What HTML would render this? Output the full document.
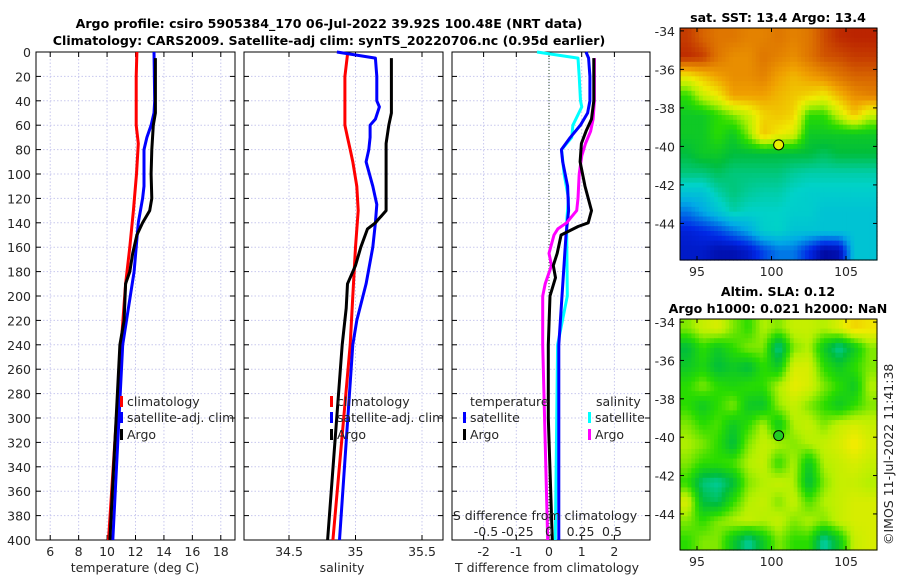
<!DOCTYPE html>
<html><head><meta charset="utf-8"><style>
body{margin:0;background:#fff}
svg{font-family:"DejaVu Sans","Liberation Sans",sans-serif;display:block}
</style></head><body>
<svg id="chart" width="900" height="580" viewBox="0 0 900 580" xmlns="http://www.w3.org/2000/svg">
<rect width="900" height="580" fill="#fff"/>
<g id="gm1"></g><g id="gm2"></g><g id="g1"></g><g id="g2"></g><g id="g3"></g>
<text x="329" y="28" text-anchor="middle" font-size="12.6" font-weight="bold">Argo profile: csiro 5905384_170 06-Jul-2022 39.92S 100.48E (NRT data)</text>
<text x="329" y="45" text-anchor="middle" font-size="12.6" font-weight="bold">Climatology: CARS2009. Satellite-adj clim: synTS_20220706.nc (0.95d earlier)</text>
<text x="778" y="22" text-anchor="middle" font-size="12.6" font-weight="bold">sat. SST: 13.4 Argo: 13.4</text>
<text x="778" y="296" text-anchor="middle" font-size="12.6" font-weight="bold">Altim. SLA: 0.12</text>
<text x="778" y="313" text-anchor="middle" font-size="12.6" font-weight="bold">Argo h1000: 0.021 h2000: NaN</text>
<text transform="translate(893,545) rotate(-90)" font-size="12.5" fill="#262626">©IMOS 11-Jul-2022 11:41:38</text>
</svg>
<script>
// ---------- data ----------
const depthTicks=[0,20,40,60,80,100,120,140,160,180,200,220,240,260,280,300,320,340,360,380,400];
const tTicks=[6,8,10,12,14,16,18];
const sTicks=[34.5,35,35.5];
const dTTicks=[-2,-1,0,1,2];
const dTTickLabels=["-2","-1","0","1","2"];
const dSTicks=[-0.5,-0.25,0,0.25,0.5];
const dSTickLabels=["-0.5","-0.25","0","0.25","0.5"];
// temperature
const tClimDepth=[0,20,60,75,100,130,160,190,238,400];
const tClimVal=[12.1,12.05,12.05,12.2,12.07,11.85,11.6,11.3,11.0,10.1];
const tSatDepth=[0,40,50,60,70,80,110,120,140,180,210,240,400];
const tSatVal=[13.3,13.35,13.3,13.1,12.8,12.6,12.6,12.5,12.2,11.9,11.5,11.1,10.4];
const tArgoDepth=[5,50,60,80,100,120,130,140,150,165,180,190,220,240,400];
const tArgoVal=[13.4,13.4,13.25,13.15,13.1,13.15,13.0,12.5,12.1,11.8,11.6,11.3,11.2,10.9,10.2];
// salinity
const sClimDepth=[2,20,60,70,80,90,110,130,160,200,240,400];
const sClimVal=[34.94,34.92,34.92,34.94,34.96,34.98,35.01,35.02,35.0,34.98,34.96,34.83];
const sSatDepth=[0,5,20,40,45,55,60,70,80,90,110,125,140,160,190,220,240,400];
const sSatVal=[34.86,35.15,35.16,35.16,35.18,35.15,35.11,35.11,35.10,35.08,35.13,35.16,35.15,35.13,35.08,35.01,34.98,34.88];
const sArgoDepth=[5,50,60,75,90,130,140,145,160,175,190,210,240,400];
const sArgoVal=[35.27,35.27,35.25,35.23,35.23,35.23,35.15,35.09,35.04,35.0,34.94,34.93,34.9,34.79];
// differences
const dTSatDepth=[0,5,20,40,50,60,70,80,90,110,130,150,240,400];
const dTSatVal=[1.13,1.21,1.25,1.25,1.18,0.96,0.65,0.38,0.42,0.57,0.6,0.52,0.3,0.3];
const dTArgoDepth=[5,40,55,65,75,90,110,130,140,143,150,165,175,185,200,240,300,400];
const dTArgoVal=[1.37,1.37,1.3,1.13,0.99,0.95,1.1,1.3,1.2,0.89,0.37,0.25,0.13,0.2,0.03,-0.02,-0.02,0.1];
const dSSatDepth=[0,5,20,40,45,60,70,80,100,120,140,200,240,400];
const dSSatVal=[-0.095,0.23,0.24,0.25,0.26,0.19,0.18,0.10,0.12,0.155,0.14,0.145,0.068,0.05];
const dSArgoDepth=[5,40,55,65,75,85,100,120,130,140,145,150,165,175,190,200,240,400];
const dSArgoVal=[0.36,0.36,0.35,0.33,0.29,0.26,0.24,0.23,0.22,0.14,0.07,0.04,0.0,0.02,-0.03,-0.05,-0.05,-0.01];
// maps (normalised colour value 0..1, rows north->south, 13 cols west->east)
const sstGrid=[
[.9,.85,.82,.82,.8,.8,.82,.8,.82,.88,.92,.93,.93],
[.92,.9,.82,.78,.78,.82,.8,.78,.82,.87,.88,.9,.9],
[.65,.7,.75,.78,.78,.8,.75,.72,.75,.78,.82,.85,.85],
[.5,.6,.65,.75,.75,.75,.72,.7,.68,.65,.72,.78,.8],
[.45,.45,.5,.55,.6,.68,.7,.68,.5,.5,.6,.7,.6],
[.45,.45,.5,.45,.55,.7,.65,.62,.45,.45,.45,.45,.45],
[.42,.45,.45,.42,.42,.42,.42,.42,.42,.4,.42,.42,.42],
[.38,.38,.4,.38,.38,.38,.38,.36,.35,.35,.35,.35,.35],
[.3,.3,.35,.38,.36,.35,.35,.33,.32,.32,.32,.32,.32],
[.2,.25,.3,.35,.33,.33,.33,.32,.32,.3,.3,.3,.3],
[.1,.12,.15,.2,.25,.32,.33,.3,.3,.3,.3,.3,.3],
[.08,.08,.05,.05,.08,.15,.2,.2,.12,.03,.05,.3,.3]];
const slaGrid=[
[.55,.6,.62,.55,.5,.58,.55,.6,.6,.58,.62,.68,.66],
[.42,.5,.45,.5,.55,.55,.36,.55,.58,.45,.36,.45,.55],
[.45,.48,.42,.45,.42,.5,.45,.62,.62,.5,.45,.5,.55],
[.5,.55,.5,.48,.5,.5,.58,.64,.62,.55,.5,.45,.58],
[.5,.45,.5,.55,.45,.44,.56,.6,.55,.5,.45,.5,.55],
[.55,.5,.52,.45,.5,.58,.45,.58,.6,.55,.6,.62,.6],
[.58,.55,.5,.42,.55,.6,.58,.55,.58,.6,.62,.66,.62],
[.55,.5,.5,.52,.58,.6,.5,.58,.45,.58,.6,.62,.6],
[.5,.38,.36,.42,.55,.58,.6,.58,.42,.55,.6,.6,.58],
[.62,.42,.4,.5,.58,.6,.55,.6,.52,.58,.6,.62,.62],
[.55,.5,.55,.58,.6,.58,.6,.55,.58,.55,.6,.62,.62],
[.5,.55,.55,.45,.36,.45,.55,.5,.5,.35,.45,.6,.62]];

// ---------- helpers ----------
const NS="http://www.w3.org/2000/svg";
function mk(tag,attrs,parent){const e=document.createElementNS(NS,tag);for(const k in attrs)e.setAttribute(k,attrs[k]);parent.appendChild(e);return e;}
const Y0=52,Y1=540;
const yScale=d=>Y0+(d/400)*(Y1-Y0);
function lin(d0,d1,r0,r1){return v=>r0+(v-d0)/(d1-d0)*(r1-r0);}
const FS=12.5;

function panel(g,x0,x1,xs,ticks,labels,showDepth,name){
  ticks.forEach(t=>{const l=mk('line',{x1:xs(t),x2:xs(t),y1:Y0,y2:Y1,stroke:'#c8c8ee','stroke-dasharray':'1.5,2','stroke-width':1},g);
    
    });
  depthTicks.forEach(d=>{const l=mk('line',{x1:x0,x2:x1,y1:yScale(d),y2:yScale(d),stroke:'#c8c8ee','stroke-dasharray':'1.5,2','stroke-width':1},g);
    
    
    mk('line',{x1:x0,x2:x0+5,y1:yScale(d),y2:yScale(d),stroke:'#000'},g);
    mk('line',{x1:x1-5,x2:x1,y1:yScale(d),y2:yScale(d),stroke:'#000'},g);
    if(showDepth){const t=mk('text',{x:x0-5,y:yScale(d)+5,'text-anchor':'end','font-size':FS,fill:'#262626'},g);t.textContent=d;
      
      }
  });
  ticks.forEach((t,i)=>{mk('line',{x1:xs(t),x2:xs(t),y1:Y1,y2:Y1-5,stroke:'#000'},g);mk('line',{x1:xs(t),x2:xs(t),y1:Y0,y2:Y0+5,stroke:'#000'},g);
    if(labels){const tx=mk('text',{x:xs(t),y:Y1+16,'text-anchor':'middle','font-size':FS,fill:'#262626'},g);tx.textContent=labels[i];
      
      }});
  const r=mk('rect',{x:x0,y:Y0,width:x1-x0,height:Y1-Y0,fill:'none',stroke:'#000','stroke-width':1},g);
  
  
}
function line(g,xs,depths,vals,color,name){
  const d=depths.map((dp,i)=>(i?'L':'M')+xs(vals[i]).toFixed(1)+','+yScale(dp).toFixed(1)).join('');
  const p=mk('path',{d:d,fill:'none',stroke:color,'stroke-width':3,'stroke-linejoin':'round'},g);
  
  
}
function txt(g,x,y,s,size,anchor,name){const t=mk('text',{x:x,y:y,'font-size':size,'text-anchor':anchor||'start',fill:'#262626'},g);t.textContent=s;
  
  return t;}
function legend(g,x,y,color,label,name){
  const r=mk('rect',{x:x,y:y-10,width:3,height:11,fill:color},g);
  
  
  txt(g,x+7,y,label,FS,'start',name);
}

// panel 1
const g1=document.getElementById('g1');
const xT=lin(5,19,36,235);
panel(g1,36,235,xT,tTicks,tTicks.map(String),true,'temp-panel');
line(g1,xT,tClimDepth,tClimVal,'#ff0000','temp-climatology-line');
line(g1,xT,tSatDepth,tSatVal,'#0000ff','temp-satellite-line');
line(g1,xT,tArgoDepth,tArgoVal,'#000000','temp-argo-line');
txt(g1,135,572,'temperature (deg C)',FS,'middle','temp-x-axis-title');
legend(g1,120,406,'#ff0000','climatology','legend-climatology');
legend(g1,120,422,'#0000ff','satellite-adj. clim','legend-satellite');
legend(g1,120,439,'#000','Argo','legend-argo');

// panel 2
const g2=document.getElementById('g2');
const xS=lin(34.5,35.5,289,422);
panel(g2,244,443,xS,sTicks,sTicks.map(String),false,'sal-panel');
line(g2,xS,sClimDepth,sClimVal,'#ff0000','sal-climatology-line');
line(g2,xS,sSatDepth,sSatVal,'#0000ff','sal-satellite-line');
line(g2,xS,sArgoDepth,sArgoVal,'#000000','sal-argo-line');
txt(g2,342,572,'salinity',FS,'middle','sal-x-axis-title');
legend(g2,330,406,'#ff0000','climatology','legend2-climatology');
legend(g2,330,422,'#0000ff','satellite-adj. clim','legend2-satellite');
legend(g2,330,439,'#000','Argo','legend2-argo');

// panel 3
const g3=document.getElementById('g3');
const xD=lin(0,1,549,581.7);
const xDS=lin(0,1,549,675);
panel(g3,452,650,xD,dTTicks,dTTickLabels,false,'diff-panel');
const zl=mk('line',{x1:xD(0),x2:xD(0),y1:Y0,y2:Y1,stroke:'#2a4a2a','stroke-dasharray':'1,2','stroke-width':1},g3);


line(g3,xDS,dSSatDepth,dSSatVal,'#00ffff','dsal-satellite-line');
line(g3,xD,dTSatDepth,dTSatVal,'#0000ff','dtemp-satellite-line');
line(g3,xDS,dSArgoDepth,dSArgoVal,'#ff00ff','dsal-argo-line');
line(g3,xD,dTArgoDepth,dTArgoVal,'#000000','dtemp-argo-line');
dSTicks.forEach((t,i)=>txt(g3,xDS(t),536,dSTickLabels[i],FS,'middle','s-diff-tick-label'));
txt(g3,545,520,'S difference from climatology',FS,'middle','s-diff-axis-title');
txt(g3,547,572,'T difference from climatology',FS,'middle','t-diff-axis-title');
txt(g3,470,406,'temperature',FS,'start','legend3-temperature-header');
txt(g3,596,406,'salinity',FS,'start','legend3-salinity-header');
legend(g3,463,422,'#0000ff','satellite','legend3-t-satellite');
legend(g3,463,439,'#000','Argo','legend3-t-argo');
legend(g3,588,422,'#00ffff','satellite','legend3-s-satellite');
legend(g3,588,439,'#ff00ff','Argo','legend3-s-argo');

// maps
const stops=[[0,[0,0,140]],[0.12,[0,40,230]],[0.25,[0,170,230]],[0.33,[0,210,200]],[0.42,[0,190,60]],[0.5,[40,220,0]],[0.58,[180,240,0]],[0.65,[240,235,0]],[0.75,[240,160,0]],[0.85,[215,100,0]],[0.95,[180,20,0]],[1,[140,0,0]]];
function cmap(v){for(let i=1;i<stops.length;i++){if(v<=stops[i][0]){const a=stops[i-1],b=stops[i],f=(v-a[0])/(b[0]-a[0]);const c=a[1].map((x,j)=>Math.round(x+f*(b[1][j]-x)));return 'rgb('+c.join(',')+')';}}return 'rgb(140,0,0)';}
function sample(grid,fr,fc){const R=grid.length,C=grid[0].length;
  const r=Math.max(0,Math.min(R-1,fr)),c=Math.max(0,Math.min(C-1,fc));
  const r0=Math.floor(r),c0=Math.floor(c),r1=Math.min(R-1,r0+1),c1=Math.min(C-1,c0+1),a=r-r0,b=c-c0;
  return grid[r0][c0]*(1-a)*(1-b)+grid[r0][c1]*(1-a)*b+grid[r1][c0]*a*(1-b)+grid[r1][c1]*a*b;}
function map(g,grid,x0,x1,y0,y1,latTop,latBot,name,dotColor){
  const lonS=lin(93.86,107.08,x0,x1), latS=lin(latTop,latBot,y0,y1);
  const rows=grid.length, cols=grid[0].length, K=4;
  const NR=rows*K, NC=cols*K, cw=(x1-x0)/NC, ch=(y1-y0)/NR;
  for(let r=0;r<NR;r++)for(let c=0;c<NC;c++){
    const v=sample(grid,(r+0.5)/K-0.5,(c+0.5)/K-0.5);
    const e=mk('rect',{x:(x0+c*cw).toFixed(2),y:(y0+r*ch).toFixed(2),width:(cw+0.6).toFixed(2),height:(ch+0.6).toFixed(2),fill:cmap(v)},g);
    
    }
  const fr=mk('rect',{x:x0,y:y0,width:x1-x0,height:y1-y0,fill:'none',stroke:'#000'},g);
  
  
  [95,100,105].forEach(l=>{mk('line',{x1:lonS(l),x2:lonS(l),y1:y1,y2:y1-4,stroke:'#000'},g);mk('line',{x1:lonS(l),x2:lonS(l),y1:y0,y2:y0+4,stroke:'#000'},g);txt(g,lonS(l),y1+16,String(l),FS,'middle',name+'-lon-label');});
  [-34,-36,-38,-40,-42,-44].forEach(l=>{mk('line',{x1:x0,x2:x0+4,y1:latS(l),y2:latS(l),stroke:'#000'},g);mk('line',{x1:x1-4,x2:x1,y1:latS(l),y2:latS(l),stroke:'#000'},g);txt(g,x0-5,latS(l)+5,String(l),FS,'end',name+'-lat-label');});
  const c=mk('circle',{cx:lonS(100.48),cy:latS(-39.92),r:5,fill:dotColor,stroke:'#000','stroke-width':1},g);
  
  
}
map(document.getElementById('gm1'),sstGrid,680,877,28,260,-33.85,-45.9,'sst-map','#e8ef00');
map(document.getElementById('gm2'),slaGrid,680,877,319,550,-33.84,-45.88,'sla-map','#22cc22');
</script>
</body></html>
